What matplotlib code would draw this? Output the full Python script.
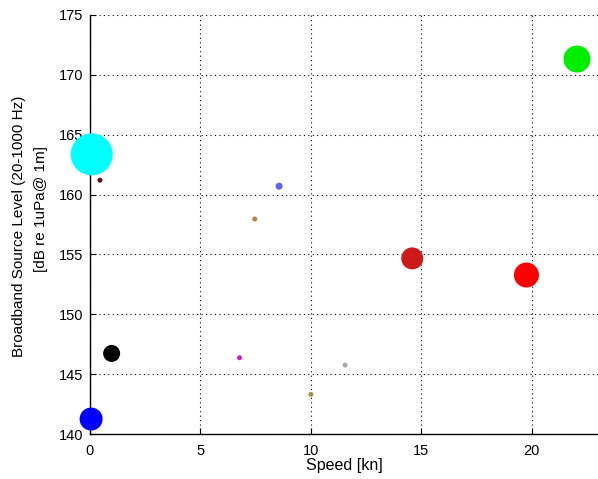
import matplotlib
matplotlib.use("Agg")
import matplotlib.pyplot as plt

plt.rcParams['font.family'] = ['Liberation Sans', 'DejaVu Sans']

speed = [0.08, 0.45, 8.56, 7.46, 0.05, 0.98, 6.77, 14.59, 19.76, 11.55, 10.0, 22.05]
level = [163.36, 161.2, 160.7, 157.96, 141.25, 146.73, 146.37, 154.67, 153.28, 145.76, 143.31, 171.32]
bubble_px = [42, 5, 7, 5, 23, 17, 5, 22, 25, 5, 5, 27]
colors = ['#00ffff', '#6b0f1a', '#6060f0', '#c08040', '#0000ff', '#000000',
          '#d020c0', '#cc1a1a', '#ff0000', '#a8a8a8', '#a09050', '#00ee00']

xticks = [0, 5, 10, 15, 20]
yticks = [140, 145, 150, 155, 160, 165, 170, 175]

fig = plt.figure(figsize=(5.98, 4.79), dpi=100)
ax = fig.add_axes([90/598, 45/479, 508/598, 419/479])

sizes = [(d * 0.72) ** 2 for d in bubble_px]
ax.scatter(speed, level, s=sizes, c=colors, edgecolors='none', zorder=3, clip_on=False)

ax.set_xlim(0, 23.0)
ax.set_ylim(140, 175)
ax.set_xticks(xticks)
ax.set_yticks(yticks)
ax.grid(True, color='black', linestyle=(0, (1, 3)), linewidth=0.8)
ax.set_axisbelow(True)
for s in ['top', 'right']:
    ax.spines[s].set_visible(False)
ax.spines['left'].set_linewidth(1.0)
ax.spines['bottom'].set_linewidth(1.0)
ax.tick_params(direction='in', length=4, labelsize=10.5)
ax.tick_params(axis='x', pad=7)
ax.tick_params(axis='y', pad=5)

ax.set_xlabel('Speed [kn]', fontsize=11.5)
ax.xaxis.label.set_verticalalignment('center')
ax.xaxis.set_label_coords(0.5, -0.074)

ax.set_ylabel('Broadband Source Level (20-1000 Hz)', fontsize=11)
ax.yaxis.label.set_verticalalignment('center')
ax.yaxis.set_label_coords((19 - 90) / 508, (479 - 226 - 45) / 419)
ax.text((41.5 - 90) / 508, (479 - 209 - 45) / 419, '[dB re 1uPa@ 1m]', fontsize=11,
        rotation=90, ha='center', va='center', transform=ax.transAxes)

fig.savefig('out.png', dpi=100)
